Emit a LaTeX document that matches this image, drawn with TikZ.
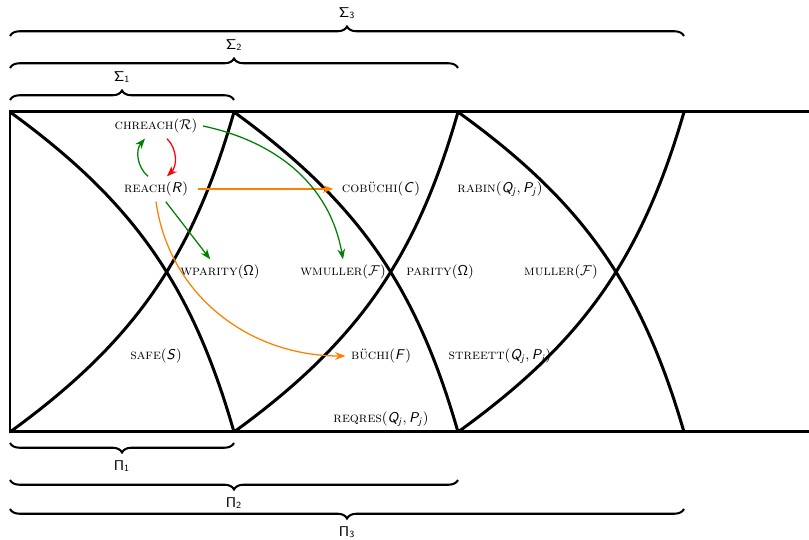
\documentclass[tikz,border=0pt]{standalone}
\usepackage{amsmath,amssymb}
\usepackage{xcolor}
\usepackage{tikz}
\usetikzlibrary{arrows.meta,positioning,calc,decorations.pathreplacing}
\DeclareMathAlphabet{\mathsfsl}{OT1}{cmss}{m}{sl}

\begin{document}
\begin{tikzpicture}[x=0.0223cm, y=0.0223cm, >=Stealth, every node/.style={font=\small},
  band/.style={line width=1.9pt},
  brc/.style={decorate, decoration={brace, amplitude=6pt}, line width=1.3pt},
  brcb/.style={decorate, decoration={brace, amplitude=6pt, mirror}, line width=1.3pt}]
        \useasboundingbox (0,0) rectangle (809,540);

        % corners of the three bands
        \coordinate (t0) at (10,428);  \coordinate (b0) at (10,108);
        \coordinate (t1) at (234,428); \coordinate (b1) at (234,108);
        \coordinate (t2) at (458,428); \coordinate (b2) at (458,108);
        \coordinate (t3) at (684,428); \coordinate (b3) at (684,108);
        \coordinate (tr) at (809,428); \coordinate (br) at (809,108);

        \draw[band] (tr) -- (t0) -- (b0) -- (br);
        \foreach \i/\j in {0/1,1/2,2/3} {
            \draw[band] (t\i) to[bend left=19] (b\j);
            \draw[band] (b\i) to[bend right=19] (t\j);
        }

        % braces above
        \draw[brc] (10,440) -- (234,440) node[midway, above=7pt] (s1) {$\mathsf{\Sigma_1}$};
        \draw[brc] (10,472) -- (458,472) node[midway, above=7pt] (s2) {$\mathsf{\Sigma_2}$};
        \draw[brc] (10,504) -- (684,504) node[midway, above=7pt] (s3) {$\mathsf{\Sigma_3}$};

        % braces below
        \draw[brcb] (10,97) -- (234,97) node[midway, below=7pt] (p1) {$\mathsf{\Pi_1}$};
        \draw[brcb] (10,60) -- (458,60) node[midway, below=7pt] (p2) {$\mathsf{\Pi_2}$};
        \draw[brcb] (10,31) -- (684,31) node[midway, below=7pt] (p3) {$\mathsf{\Pi_3}$};

        % conditions
        \node (chreach) at (156,414) {\textsc{chreach}$(\mathcal{R})$};
        \node (reach) at (156,351) {\textsc{reach}$(\mathsfsl{R})$};
        \node (wparity) at (220,268) {\textsc{wparity}$(\mathsf{\Omega})$};
        \node (wmuller) at (343,268) {\textsc{wmuller}$(\mathcal{F})$};
        \node (parity) at (440,268) {\textsc{parity}$(\mathsf{\Omega})$};
        \node (muller) at (561,268) {\textsc{muller}$(\mathcal{F})$};
        \node (cobuchi) at (381,351) {\textsc{cobüchi}$(\mathsfsl{C})$};
        \node (rabin) at (500,351) {\textsc{rabin}$(\mathsfsl{Q_j}, \mathsfsl{P_j})$};
        \node (buchi) at (381,184) {\textsc{büchi}$(\mathsfsl{F})$};
        \node (streett) at (500,184) {\textsc{streett}$(\mathsfsl{Q_j}, \mathsfsl{P_j})$};
        \node (safe) at (156,184) {\textsc{safe}$(\mathsfsl{S})$};
        \node (reqres) at (381,121) {\textsc{reqres}$(\mathsfsl{Q_j}, \mathsfsl{P_j})$};

        % reductions
        \draw[->, thick, green!50!black] ($(reach.north)+(-8,0)$) to[bend left=45] ($(chreach.south)+(-11,0)$);
        \draw[->, thick, red] ($(chreach.south)+(11,0)$) to[bend left=45] ($(reach.north)+(11,0)$);
        \draw[->, thick, orange, shorten <=3pt, shorten >=2pt] (reach) -- (cobuchi);
        \draw[->, thick, green!50!black] (reach) -- (wparity);
        \draw[->, thick, green!50!black] (chreach.east) to[out=-12, in=100] (wmuller.north);
        \draw[->, thick, orange] (reach.south) to[out=-82, in=180] (buchi.west);
    \end{tikzpicture}
\end{document}
